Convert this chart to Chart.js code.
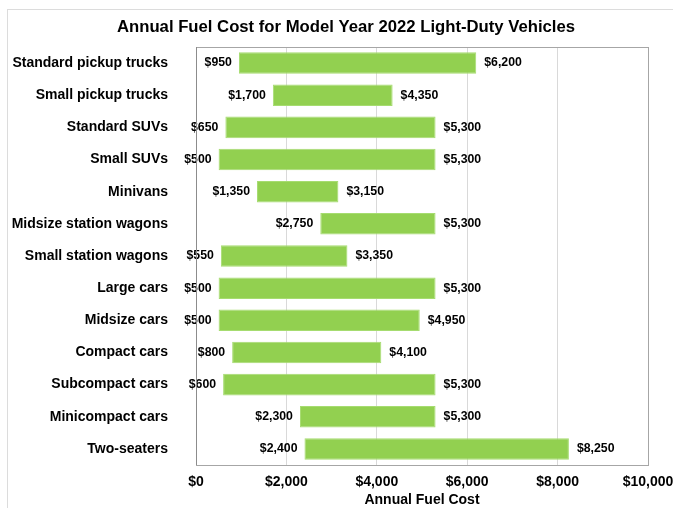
<!DOCTYPE html>
<html>
<head>
<meta charset="utf-8">
<script src="https://cdn.jsdelivr.net/npm/chart.js@4.4.0/dist/chart.umd.min.js"></script>
<style>
  html, body { margin: 0; padding: 0; background: #fff; }
  #frame { position: absolute; left: 7px; top: 9px; width: 700px; height: 520px; border: 1px solid #dcdcdc; box-sizing: border-box; }
  #wrap { position: absolute; left: 0; top: 0; width: 673px; height: 508px; }
</style>
</head>
<body>
<div id="frame"></div>
<div id="wrap"><canvas id="c" width="673" height="508"></canvas></div>
<script>
const categories = ["Standard pickup trucks","Small pickup trucks","Standard SUVs","Small SUVs","Minivans","Midsize station wagons","Small station wagons","Large cars","Midsize cars","Compact cars","Subcompact cars","Minicompact cars","Two-seaters"];
const lowCost  = [950, 1700, 650, 500, 1350, 2750, 550, 500, 500, 800, 600, 2300, 2400];
const highCost = [6200, 4350, 5300, 5300, 3150, 5300, 3350, 5300, 4950, 4100, 5300, 5300, 8250];
const xTicks = [0, 2000, 4000, 6000, 8000, 10000];
const chartTitle = 'Annual Fuel Cost for Model Year 2022 Light-Duty Vehicles';
const xAxisTitle = 'Annual Fuel Cost';

const fmt = v => '$' + v.toLocaleString('en-US');
const FONT = "'Liberation Sans', Arial, sans-serif";

const endLabels = {
  id: 'endLabels',
  afterDatasetsDraw(chart) {
    const ctx = chart.ctx;
    const xs = chart.scales.x;
    const meta = chart.getDatasetMeta(0);
    ctx.save();
    ctx.font = "bold 12.3px " + FONT;
    ctx.fillStyle = '#000';
    ctx.textBaseline = 'middle';
    meta.data.forEach((el, i) => {
      const y = el.y;
      ctx.textAlign = 'right';
      ctx.fillText(fmt(lowCost[i]), xs.getPixelForValue(lowCost[i]) - 7, y);
      ctx.textAlign = 'left';
      ctx.fillText(fmt(highCost[i]), xs.getPixelForValue(highCost[i]) + 8, y);
    });
    ctx.restore();
  },
  afterDraw(chart) {
    const a = chart.chartArea, ctx = chart.ctx;
    ctx.save();
    ctx.strokeStyle = '#a6a6a6';
    ctx.lineWidth = 1;
    ctx.strokeRect(Math.round(a.left) + 0.5, Math.round(a.top) + 0.5, Math.round(a.right - a.left), Math.round(a.bottom - a.top));
    ctx.strokeStyle = '#8c8c8c';
    ctx.beginPath();
    ctx.moveTo(Math.round(a.left) + 0.5, a.top);
    ctx.lineTo(Math.round(a.left) + 0.5, a.bottom);
    ctx.stroke();
    // chart title
    ctx.fillStyle = '#000';
    ctx.textAlign = 'center';
    ctx.textBaseline = 'middle';
    ctx.font = "bold 16.7px " + FONT;
    ctx.fillText(chartTitle, 346, 27);
    // x axis title
    ctx.font = "bold 14px " + FONT;
    ctx.fillText(xAxisTitle, (a.left + a.right) / 2, 500);
    ctx.restore();
  }
};

new Chart(document.getElementById('c'), {
  type: 'bar',
  data: {
    labels: categories,
    datasets: [{
      data: categories.map((c, i) => [lowCost[i], highCost[i]]),
      backgroundColor: '#92d050',
      borderColor: '#a6dc70',
      borderWidth: 1,
      borderSkipped: false,
      barPercentage: 0.67,
      categoryPercentage: 1.0
    }]
  },
  options: {
    indexAxis: 'y',
    responsive: false,
    animation: false,
    layout: { padding: { top: 47, right: 25, bottom: 9, left: 0 } },
    plugins: {
      legend: { display: false },
      tooltip: { enabled: false },
      title: { display: false }
    },
    scales: {
      x: {
        min: 0, max: 10000,
        afterBuildTicks: s => { s.ticks = xTicks.map(v => ({ value: v })); },
        afterFit: s => { s.paddingRight = 0; s.paddingLeft = 0; },
        grid: { color: '#d9d9d9', drawTicks: false },
        border: { display: false },
        ticks: {
          color: '#000',
          padding: 8.6,
          font: { family: FONT, size: 14, weight: 'bold' },
          callback: v => fmt(v)
        }
      },
      y: {
        afterFit: s => { s.width = 196; },
        grid: { display: false, drawTicks: false },
        border: { display: false },
        ticks: {
          color: '#000',
          padding: 28,
          font: { family: FONT, size: 14, weight: 'bold' }
        }
      }
    }
  },
  plugins: [endLabels]
});
</script>
</body>
</html>
